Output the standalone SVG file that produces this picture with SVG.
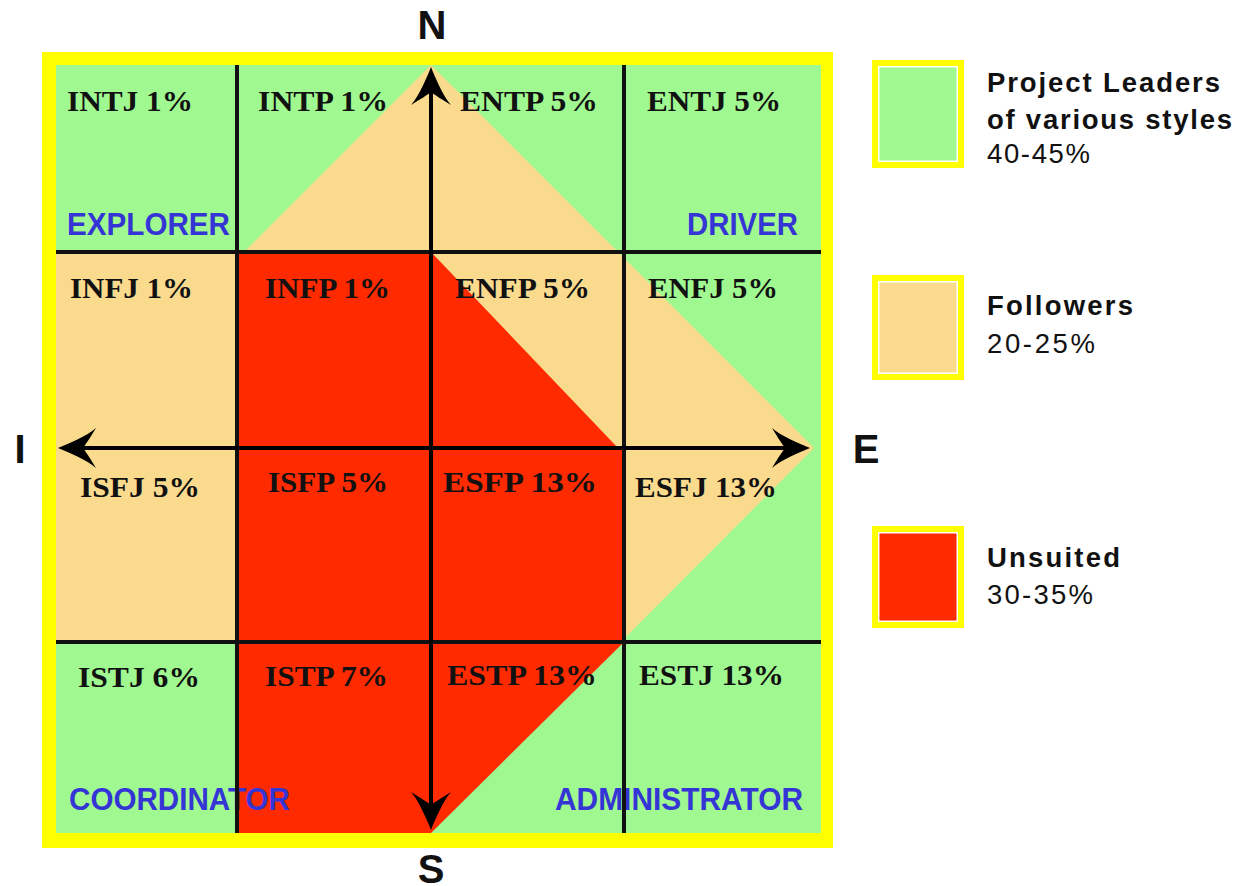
<svg xmlns="http://www.w3.org/2000/svg" width="1240" height="886" viewBox="0 0 1240 886">
  <style>
    .mb { font-family: "Liberation Serif", "Times New Roman", serif; font-weight: bold; font-size: 30px; fill: #111; }
    .role { font-family: "Liberation Sans", Arial, sans-serif; font-weight: bold; font-size: 32px; fill: #3535D6; }
    .compass { font-family: "Liberation Sans", Arial, sans-serif; font-weight: bold; font-size: 40px; fill: #111; text-anchor: middle; }
    .lg { font-family: "Liberation Sans", Arial, sans-serif; font-size: 27.5px; fill: #111; }
    .lgb { font-weight: bold; }
    .grid { stroke: #111; stroke-width: 4; fill: none; }
    .axis { stroke: #000; stroke-width: 4; fill: none; marker-start: url(#head); marker-end: url(#head); }
    .frame { fill: #FFFF00; }
    .swatch-edge { fill: none; stroke: #FFFFFF; stroke-width: 1.5; }
    .lead { fill: #A0F890; }
    .follow { fill: #FADB8E; }
    .unsuit { fill: #FF2A00; }
  </style>
  <defs>
    <marker id="head" viewBox="0 -20 40 40" refX="24" refY="0" markerWidth="40" markerHeight="40" markerUnits="userSpaceOnUse" orient="auto-start-reverse">
      <path d="M38,0 C28,-4 9,-12 0,-20 C6,-10 10,-4 13,0 C10,4 6,10 0,20 C9,12 28,4 38,0 Z" fill="#000"/>
    </marker>
  </defs>

  <!-- chart background: yellow frame and coloured zones -->
  <g id="zones">
    <rect class="frame" x="42" y="52" width="791" height="796"/>
    <rect class="lead" x="56" y="65" width="765" height="768"/>
    <polygon class="follow" points="431,65 814,448 431,833 237,833 237,642 56,642 56,252 244,252"/>
    <polygon class="unsuit" points="237,252 431,252 618,448 624,448 624,642 431,833 237,833"/>
  </g>

  <!-- role names in the corner quadrants -->
  <g id="role-explorer"><text class="role" x="67" y="235" textLength="163" lengthAdjust="spacingAndGlyphs">EXPLORER</text></g>
  <g id="role-driver"><text class="role" x="687" y="235" textLength="111" lengthAdjust="spacingAndGlyphs">DRIVER</text></g>
  <g id="role-coordinator"><text class="role" x="69" y="810" textLength="221" lengthAdjust="spacingAndGlyphs">COORDINATOR</text></g>
  <g id="role-administrator"><text class="role" x="555" y="810" textLength="248" lengthAdjust="spacingAndGlyphs">ADMINISTRATOR</text></g>

  <!-- grid dividing the 16 types -->
  <g id="grid">
    <line class="grid" x1="237" y1="65" x2="237" y2="833"/>
    <line class="grid" x1="624" y1="65" x2="624" y2="833"/>
    <line class="grid" x1="56" y1="252" x2="821" y2="252"/>
    <line class="grid" x1="56" y1="642" x2="821" y2="642"/>
  </g>

  <!-- N-S and I-E axes -->
  <g id="connectors">
    <line class="axis" x1="72" y1="448" x2="796" y2="448"/>
    <line class="axis" x1="431" y1="816" x2="431" y2="81"/>
  </g>

  <!-- type cells -->
  <g id="cell-intj"><text class="mb" x="67" y="111" textLength="126" lengthAdjust="spacingAndGlyphs">INTJ 1%</text></g>
  <g id="cell-intp"><text class="mb" x="258" y="111" textLength="130" lengthAdjust="spacingAndGlyphs">INTP 1%</text></g>
  <g id="cell-entp"><text class="mb" x="460" y="111" textLength="138" lengthAdjust="spacingAndGlyphs">ENTP 5%</text></g>
  <g id="cell-entj"><text class="mb" x="647" y="111" textLength="134" lengthAdjust="spacingAndGlyphs">ENTJ 5%</text></g>

  <g id="cell-infj"><text class="mb" x="70" y="298" textLength="123" lengthAdjust="spacingAndGlyphs">INFJ 1%</text></g>
  <g id="cell-infp"><text class="mb" x="265" y="298" textLength="125" lengthAdjust="spacingAndGlyphs">INFP 1%</text></g>
  <g id="cell-enfp"><text class="mb" x="455" y="298" textLength="135" lengthAdjust="spacingAndGlyphs">ENFP 5%</text></g>
  <g id="cell-enfj"><text class="mb" x="648" y="298" textLength="130" lengthAdjust="spacingAndGlyphs">ENFJ 5%</text></g>

  <g id="cell-isfj"><text class="mb" x="80" y="497" textLength="120" lengthAdjust="spacingAndGlyphs">ISFJ 5%</text></g>
  <g id="cell-isfp"><text class="mb" x="268" y="492" textLength="120" lengthAdjust="spacingAndGlyphs">ISFP 5%</text></g>
  <g id="cell-esfp"><text class="mb" x="443" y="492" textLength="154" lengthAdjust="spacingAndGlyphs">ESFP 13%</text></g>
  <g id="cell-esfj"><text class="mb" x="635" y="497" textLength="142" lengthAdjust="spacingAndGlyphs">ESFJ 13%</text></g>

  <g id="cell-istj"><text class="mb" x="78" y="687" textLength="122" lengthAdjust="spacingAndGlyphs">ISTJ 6%</text></g>
  <g id="cell-istp"><text class="mb" x="265" y="686" textLength="123" lengthAdjust="spacingAndGlyphs">ISTP 7%</text></g>
  <g id="cell-estp"><text class="mb" x="447" y="685" textLength="150" lengthAdjust="spacingAndGlyphs">ESTP 13%</text></g>
  <g id="cell-estj"><text class="mb" x="639" y="685" textLength="145" lengthAdjust="spacingAndGlyphs">ESTJ 13%</text></g>

  <!-- compass letters -->
  <g id="compass">
    <text class="compass" x="432" y="39">N</text>
    <text class="compass" x="431" y="883">S</text>
    <text class="compass" x="20" y="463">I</text>
    <text class="compass" x="866" y="463">E</text>
  </g>

  <!-- legend -->
  <g id="legend-leaders">
    <rect class="frame" x="872" y="60" width="92" height="108"/>
    <rect class="lead" x="879" y="67" width="78" height="94"/>
    <rect class="swatch-edge" x="878.75" y="66.75" width="78.5" height="94.5"/>
    <text class="lg lgb" x="987" y="92" textLength="233" lengthAdjust="spacing">Project Leaders</text>
    <text class="lg lgb" x="987" y="129" textLength="245" lengthAdjust="spacing">of various styles</text>
    <text class="lg" x="987" y="163" textLength="103" lengthAdjust="spacing">40-45%</text>
  </g>
  <g id="legend-followers">
    <rect class="frame" x="872" y="275" width="92" height="105"/>
    <rect class="follow" x="879" y="282" width="78" height="91"/>
    <rect class="swatch-edge" x="878.75" y="281.75" width="78.5" height="91.5"/>
    <text class="lg lgb" x="987" y="315" textLength="146" lengthAdjust="spacing">Followers</text>
    <text class="lg" x="987" y="353" textLength="108" lengthAdjust="spacing">20-25%</text>
  </g>
  <g id="legend-unsuited">
    <rect class="frame" x="872" y="526" width="92" height="102"/>
    <rect class="unsuit" x="879" y="533" width="78" height="88"/>
    <rect class="swatch-edge" x="878.75" y="532.75" width="78.5" height="88.5"/>
    <text class="lg lgb" x="987" y="567" textLength="133" lengthAdjust="spacing">Unsuited</text>
    <text class="lg" x="987" y="604" textLength="106" lengthAdjust="spacing">30-35%</text>
  </g>
</svg>
